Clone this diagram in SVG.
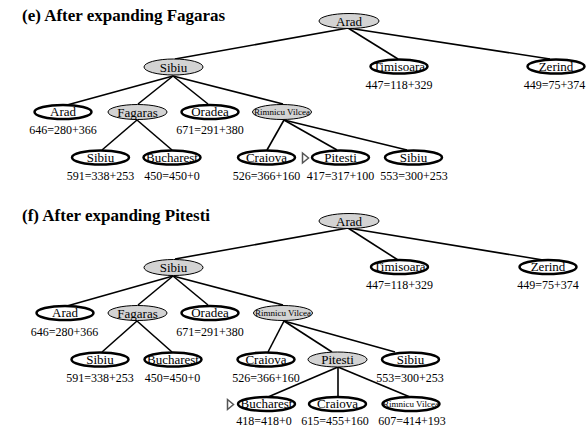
<svg xmlns="http://www.w3.org/2000/svg" width="586" height="429" viewBox="0 0 586 429">
<style>
.t{font-family:"Liberation Serif","Times New Roman",serif;fill:#000}
.title{font-size:17px;font-weight:bold}
.nl{font-size:13px;text-anchor:middle}
.sm{font-size:9px;text-anchor:middle}
.f{font-size:12px;text-anchor:middle}
.w{fill:#fff;stroke:#000;stroke-width:2.5}
.g{fill:#d3d3d3;stroke:#000;stroke-width:1}
.e{stroke:#000;stroke-width:1.6;fill:none}
.tri{fill:#fff;stroke:#555;stroke-width:1.5;stroke-linejoin:miter}
</style>
<rect width="586" height="429" fill="#fff"/>
<text class="t title" x="22" y="21">(e) After expanding Fagaras</text>
<text class="t title" x="22" y="221">(f) After expanding Pitesti</text>

<g id="connectors">
<!-- (e) -->
<line class="e" x1="348" y1="28" x2="175" y2="59"/>
<line class="e" x1="348" y1="28" x2="398" y2="59"/>
<line class="e" x1="348" y1="28" x2="550" y2="59"/>
<line class="e" x1="173" y1="76" x2="67" y2="105"/>
<line class="e" x1="173" y1="76" x2="138" y2="104"/>
<line class="e" x1="173" y1="76" x2="208" y2="104"/>
<line class="e" x1="173" y1="76" x2="283" y2="104"/>
<line class="e" x1="137" y1="120" x2="102" y2="150"/>
<line class="e" x1="137" y1="120" x2="172" y2="150"/>
<line class="e" x1="284" y1="120" x2="267" y2="150"/>
<line class="e" x1="284" y1="120" x2="337" y2="150"/>
<line class="e" x1="284" y1="120" x2="407" y2="150"/>
<!-- (f) -->
<line class="e" x1="348" y1="228" x2="175" y2="259"/>
<line class="e" x1="348" y1="228" x2="398" y2="260"/>
<line class="e" x1="348" y1="228" x2="543" y2="260"/>
<line class="e" x1="173" y1="276" x2="67" y2="306"/>
<line class="e" x1="173" y1="276" x2="138" y2="305"/>
<line class="e" x1="173" y1="276" x2="208" y2="305"/>
<line class="e" x1="173" y1="276" x2="283" y2="305"/>
<line class="e" x1="137" y1="321" x2="102" y2="352"/>
<line class="e" x1="137" y1="321" x2="172" y2="352"/>
<line class="e" x1="284" y1="321" x2="268" y2="352"/>
<line class="e" x1="284" y1="321" x2="332" y2="352"/>
<line class="e" x1="284" y1="321" x2="395" y2="352"/>
<line class="e" x1="338" y1="367" x2="268" y2="397"/>
<line class="e" x1="338" y1="367" x2="338" y2="397"/>
<line class="e" x1="338" y1="367" x2="410" y2="397"/>
</g>

<!-- (e) nodes -->
<g id="e-arad"><ellipse class="g" cx="349" cy="21" rx="30" ry="7.5"/><text class="t nl" x="349" y="25.5">Arad</text></g>
<g id="e-sibiu"><ellipse class="g" cx="173.5" cy="67" rx="29.5" ry="8"/><text class="t nl" x="173.5" y="71.5">Sibiu</text></g>
<g id="e-timisoara"><ellipse class="w" cx="399" cy="66.5" rx="28.5" ry="7"/><text class="t nl" x="399" y="70.5">Timisoara</text><text class="t f" x="399" y="89">447=118+329</text></g>
<g id="e-zerind"><ellipse class="w" cx="556" cy="66.5" rx="28.5" ry="7"/><text class="t nl" x="556" y="70.5">Zerind</text><text class="t f" x="554.5" y="89">449=75+374</text></g>
<g id="e-arad2"><ellipse class="w" cx="63" cy="112" rx="28.5" ry="7"/><text class="t nl" x="63" y="116">Arad</text><text class="t f" x="63" y="134">646=280+366</text></g>
<g id="e-fagaras"><ellipse class="g" cx="137.5" cy="112" rx="29.5" ry="7.5"/><text class="t nl" x="137.5" y="116.5">Fagaras</text></g>
<g id="e-oradea"><ellipse class="w" cx="210" cy="112" rx="28.5" ry="7"/><text class="t nl" x="210" y="116">Oradea</text><text class="t f" x="210" y="134">671=291+380</text></g>
<g id="e-rimnicu"><ellipse class="g" cx="282" cy="112" rx="29.5" ry="7.5"/><text class="t sm" x="282" y="115">Rimnicu Vilcea</text></g>
<g id="e-sibiu2"><ellipse class="w" cx="100.5" cy="157.5" rx="28.5" ry="7"/><text class="t nl" x="100.5" y="161.5">Sibiu</text><text class="t f" x="100.5" y="180">591=338+253</text></g>
<g id="e-bucharest"><ellipse class="w" cx="172" cy="157.5" rx="28.5" ry="7"/><text class="t nl" x="172" y="161.5">Bucharest</text><text class="t f" x="172" y="180">450=450+0</text></g>
<g id="e-craiova"><ellipse class="w" cx="266.5" cy="157.5" rx="28.5" ry="7"/><text class="t nl" x="266.5" y="161.5">Craiova</text><text class="t f" x="266.5" y="180">526=366+160</text></g>
<g id="e-pitesti"><polygon class="tri" points="302.5,153 308.5,158 302.5,163"/><ellipse class="w" cx="340.5" cy="157.5" rx="28.5" ry="7"/><text class="t nl" x="340.5" y="161.5">Pitesti</text><text class="t f" x="340.5" y="180">417=317+100</text></g>
<g id="e-sibiu3"><ellipse class="w" cx="413.5" cy="157.5" rx="28.5" ry="7"/><text class="t nl" x="413.5" y="161.5">Sibiu</text><text class="t f" x="414" y="180">553=300+253</text></g>

<!-- (f) nodes -->
<g id="f-arad"><ellipse class="g" cx="349" cy="221" rx="30" ry="7.5"/><text class="t nl" x="349" y="225.5">Arad</text></g>
<g id="f-sibiu"><ellipse class="g" cx="173.5" cy="267.5" rx="29.5" ry="8"/><text class="t nl" x="173.5" y="272">Sibiu</text></g>
<g id="f-timisoara"><ellipse class="w" cx="399.5" cy="267" rx="28.5" ry="7"/><text class="t nl" x="399.5" y="271">Timisoara</text><text class="t f" x="399.5" y="289">447=118+329</text></g>
<g id="f-zerind"><ellipse class="w" cx="548" cy="267" rx="28.5" ry="7"/><text class="t nl" x="548" y="271">Zerind</text><text class="t f" x="548" y="289">449=75+374</text></g>
<g id="f-arad2"><ellipse class="w" cx="65" cy="313" rx="28.5" ry="7"/><text class="t nl" x="65" y="317">Arad</text><text class="t f" x="64.5" y="336">646=280+366</text></g>
<g id="f-fagaras"><ellipse class="g" cx="137.5" cy="313" rx="29.5" ry="7.5"/><text class="t nl" x="137.5" y="317.5">Fagaras</text></g>
<g id="f-oradea"><ellipse class="w" cx="210" cy="313" rx="28.5" ry="7"/><text class="t nl" x="210" y="317">Oradea</text><text class="t f" x="210" y="336">671=291+380</text></g>
<g id="f-rimnicu"><ellipse class="g" cx="283" cy="313" rx="29.5" ry="7.5"/><text class="t sm" x="283" y="316">Rimnicu Vilcea</text></g>
<g id="f-sibiu2"><ellipse class="w" cx="100" cy="359.5" rx="28.5" ry="7"/><text class="t nl" x="100" y="363.5">Sibiu</text><text class="t f" x="100" y="382">591=338+253</text></g>
<g id="f-bucharest"><ellipse class="w" cx="173" cy="359.5" rx="28.5" ry="7"/><text class="t nl" x="173" y="363.5">Bucharest</text><text class="t f" x="172.5" y="382">450=450+0</text></g>
<g id="f-craiova"><ellipse class="w" cx="266" cy="359.5" rx="28.5" ry="7"/><text class="t nl" x="266" y="363.5">Craiova</text><text class="t f" x="266" y="382">526=366+160</text></g>
<g id="f-pitesti"><ellipse class="g" cx="337.5" cy="359.5" rx="29.5" ry="7.5"/><text class="t nl" x="337.5" y="364">Pitesti</text></g>
<g id="f-sibiu3"><ellipse class="w" cx="410.5" cy="359.5" rx="28.5" ry="7"/><text class="t nl" x="410.5" y="363.5">Sibiu</text><text class="t f" x="410" y="382">553=300+253</text></g>
<g id="f-bucharest2"><polygon class="tri" points="227.5,399.5 233.5,404.5 227.5,409.5"/><ellipse class="w" cx="266.5" cy="404" rx="28.5" ry="7"/><text class="t nl" x="266.5" y="408">Bucharest</text><text class="t f" x="264" y="424.5">418=418+0</text></g>
<g id="f-craiova2"><ellipse class="w" cx="337.5" cy="404" rx="28.5" ry="7"/><text class="t nl" x="337.5" y="408">Craiova</text><text class="t f" x="335" y="424.5">615=455+160</text></g>
<g id="f-rimnicu2"><ellipse class="w" cx="411" cy="404" rx="28.5" ry="7"/><text class="t sm" x="411" y="407">Rimnicu Vilcea</text><text class="t f" x="412" y="424.5">607=414+193</text></g>
</svg>
